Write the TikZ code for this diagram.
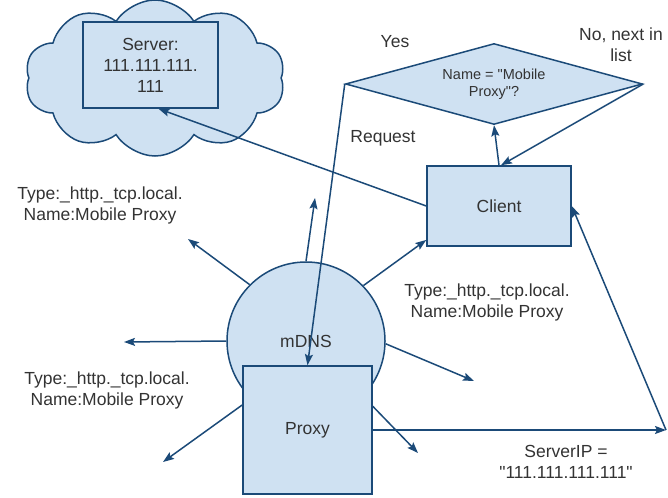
\documentclass[tikz,border=0pt]{standalone}
\usepackage{fontspec}
\setmainfont{Liberation Sans}[Ligatures=TeXOff]
\usetikzlibrary{arrows.meta,shapes.geometric,shapes.symbols}

\definecolor{boxfill}{RGB}{207,225,242}
\definecolor{boxline}{RGB}{27,74,120}
\definecolor{txt}{RGB}{51,51,51}

\begin{document}
\begin{tikzpicture}[x=1pt,y=-1pt,line width=1.5pt,
    every node/.style={text=txt,font=\fontsize{17.5}{21}\selectfont}]
  \tikzstyle{blk}=[draw=boxline,fill=boxfill,inner sep=0pt]
  \tikzstyle{tip}=[draw=boxline,-{Stealth[length=11pt,width=8pt,inset=2pt]}]
  \useasboundingbox (0,0) rectangle (668,497);

  % boxes
  \node[blk,cloud,cloud puffs=10,cloud puff arc=115,aspect=1.7,minimum width=260pt,minimum height=156pt] (sky) at (155,78) {};
  \node[blk,rectangle,minimum width=135pt,minimum height=86pt,align=center] (server) at (150.5,65) {Server:\\111.111.111.\\111};
  \node[blk,diamond,aspect=3.6,minimum width=297pt,minimum height=81pt,align=center,
        font=\fontsize{14.5}{17}\selectfont] (match) at (494,84) {Name = "Mobile\\Proxy"?};
  \node[blk,minimum width=144pt,minimum height=80pt] (client) at (499,206) {Client};
  \node[blk,circle,minimum size=158pt] (mdns) at (306,341) {mDNS};
  \node[blk,minimum width=129pt,minimum height=128pt] (proxy) at (307.5,430) {Proxy};

  % loose ends of the announcements
  \coordinate (c1) at (315,198);
  \coordinate (c2) at (188,239);
  \coordinate (c3) at (124,342);
  \coordinate (c4) at (474,381);
  \coordinate (p1) at (163,462);
  \coordinate (p2) at (418,453);
  \coordinate (turn) at (666,430);

  \draw[tip] (client.north) -- (match.south);
  \draw[tip] (match.east) -- ([xshift=2pt]client.north);
  \draw[tip] (client.west) -- ([xshift=8pt]server.south);
  \draw[tip] (match.west) -- (proxy.north);
  \draw[tip] (proxy.east) -- (turn);
  \draw[tip] (turn) -- (client.east);
  \draw[tip] (mdns.44) -- (client.205);
  \foreach \a/\b in {90/c1,135/c2,180/c3,-2/c4}
    \draw[tip] (mdns.\a) -- (\b);
  \foreach \a/\b in {159/p1,20/p2}
    \draw[tip] (proxy.\a) -- (\b);

  % labels
  \node[align=center] (rec1) at (100,205) {Type:\_http.\_tcp.local.\\Name:Mobile Proxy};
  \node[align=center] (rec2) at (487,302) {Type:\_http.\_tcp.local.\\Name:Mobile Proxy};
  \node[align=center] (rec3) at (107,390) {Type:\_http.\_tcp.local.\\Name:Mobile Proxy};
  \node (yes) at (395,42) {Yes};
  \node[align=center] (next) at (621,45) {No, next in\\list};
  \node (req) at (383,138) {Request};
  \node[align=center] (sip) at (566,462) {ServerIP =\\"111.111.111.111"};
\end{tikzpicture}
\end{document}
